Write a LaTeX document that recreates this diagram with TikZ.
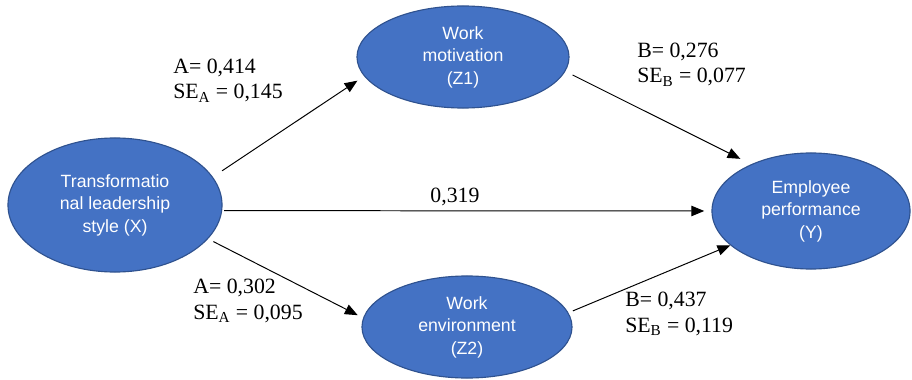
\documentclass[tikz,border=0pt]{standalone}
\usepackage{fontspec}
\setmainfont{Liberation Serif}
\newfontfamily\ovalfont{Liberation Sans}
\usetikzlibrary{shapes.geometric,arrows.meta}
\definecolor{ovalblue}{HTML}{4472C4}
\definecolor{ovalline}{HTML}{2F528F}
\tikzset{
  oval/.style={ellipse,draw=ovalline,line width=0.8pt,fill=ovalblue,text=white,
    inner sep=0pt,align=center,font=\ovalfont\fontsize{12.6}{16}\selectfont},
  link/.style={-{Triangle[length=0.32cm,width=0.26cm]},line width=0.7pt,black},
  coef/.style={align=left,inner sep=0pt,anchor=base west,font=\fontsize{15.5}{17.8}\selectfont}
}
\begin{document}
\begin{tikzpicture}[x=0.025cm,y=-0.025cm]
    \useasboundingbox (0,0) rectangle (912,380);
    % latent variables
    \node[oval,minimum width=5.35cm,minimum height=3.35cm] (X) at (115,205) {Transformatio\\nal leadership\\style (X)};
    \node[oval,minimum width=5.3cm,minimum height=2.55cm] (Z1) at (463,57) {Work\\motivation\\(Z1)};
    \node[oval,minimum width=5.25cm,minimum height=2.55cm] (Z2) at (467,327) {Work\\environment\\(Z2)};
    \node[oval,minimum width=4.95cm,minimum height=2.9cm] (Y) at (811,211) {Employee\\performance\\(Y)};
    % paths
    \draw[link,shorten <=0.275cm,shorten >=0.2cm] (X.16) -- (Z1.191);
    \draw[link,shorten <=0.05cm,shorten >=0.18cm] (X.-3) -- (Y.west);
    \draw[link,shorten <=0.15cm,shorten >=0.15cm] (X.-20) -- (Z2.175);
    \draw[link,shorten <=0.2cm,shorten >=0.3cm] (Z1.-8) -- (Y.142);
    \draw[link,shorten <=0.12cm] (Z2.8) -- (Y.203);
    % coefficients (anchored at the last baseline)
    \node[coef] (a1) at (173,99) {A= 0,414\\SE\textsubscript{A} = 0,145};
    \node[coef] (a2) at (193,319) {A= 0,302\\SE\textsubscript{A} = 0,095};
    \node[coef] (b1) at (637,83) {B= 0,276\\SE\textsubscript{B} = 0,077};
    \node[coef] (b2) at (625,332) {B= 0,437\\SE\textsubscript{B} = 0,119};
    \node[coef,anchor=base] (c) at (455,202) {0,319};
\end{tikzpicture}
\end{document}
